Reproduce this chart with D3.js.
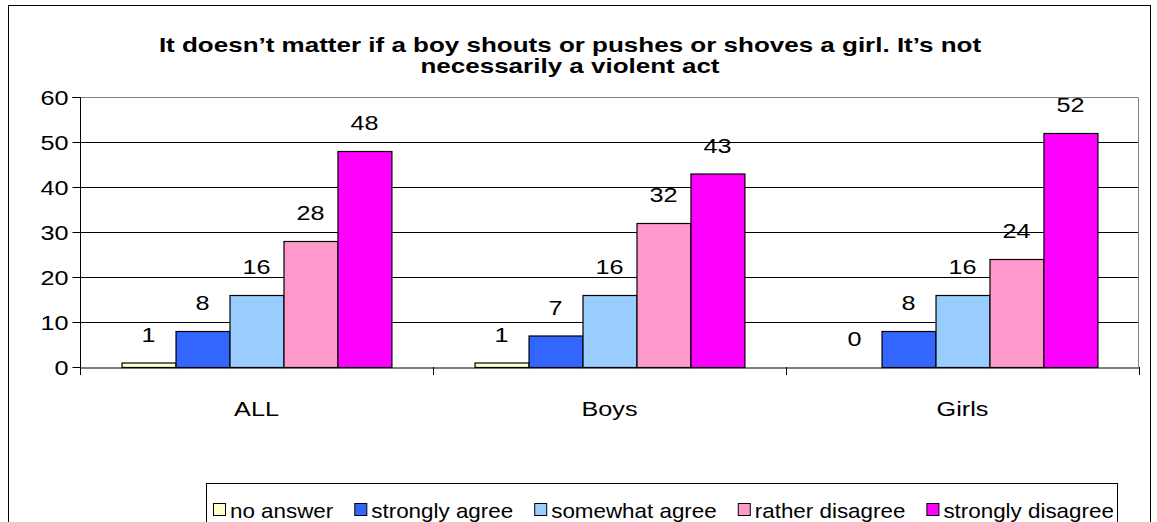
<!DOCTYPE html>
<html>
<head>
<meta charset="utf-8">
<script src="https://cdn.jsdelivr.net/npm/d3@7"></script>
<style>
  html, body { margin: 0; padding: 0; background: #fff; }
  svg { display: block; font-family: Arial, "Liberation Sans", sans-serif; }
</style>
</head>
<body>
<svg id="chart" width="1157" height="522"></svg>
<script>
const categories = ["ALL", "Boys", "Girls"];
const seriesNames = ["no answer", "strongly agree", "somewhat agree", "rather disagree", "strongly disagree"];
const seriesColors = ["#FFFFCC", "#3366FF", "#99CCFF", "#FF99CC", "#FF00FF"];
const noAnswer = [1, 1, 0];
const stronglyAgree = [8, 7, 8];
const somewhatAgree = [16, 16, 16];
const ratherDisagree = [28, 32, 24];
const stronglyDisagree = [48, 43, 52];
const yTicks = [0, 10, 20, 30, 40, 50, 60];
const titleLines = ["It doesn\u2019t matter if a boy shouts or pushes or shoves a girl. It\u2019s not", "necessarily a violent act"];

const seriesValues = [noAnswer, stronglyAgree, somewhatAgree, ratherDisagree, stronglyDisagree];

const SX = 1.2; // horizontal text stretch seen in the reference
const FONT = "Arial, 'Liberation Sans', sans-serif";

const svg = d3.select("#chart");

function stretchText(sel, sx) {
  sel.each(function() {
    const t = d3.select(this);
    const x = +t.attr("x") || 0;
    const y = +t.attr("y") || 0;
    const prev = t.attr("transform") || "";
    t.attr("x", 0).attr("y", 0)
      .attr("transform", `${prev} translate(${x},${y}) scale(${sx},1)`);
  });
}

// outer border
svg.append("rect").attr("x", 8.5).attr("y", 5.5).attr("width", 1142).attr("height", 530)
  .attr("fill", "#fff").attr("stroke", "#000").attr("stroke-width", 1);

const plot = {left: 80, right: 1139, top: 97, bottom: 367};

const x0 = d3.scaleBand().domain(categories).range([plot.left, plot.right]).paddingInner(0).paddingOuter(0);
const x1 = d3.scaleBand().domain(seriesNames).range([0, x0.bandwidth()]).paddingInner(0).paddingOuter(0.77);
const y = d3.scaleLinear().domain([0, 60]).range([plot.bottom, plot.top]);

// title
titleLines.forEach((t, i) => {
  const tt = svg.append("text").attr("x", 570).attr("y", 52 + i * 21)
    .attr("text-anchor", "middle").attr("font-weight", "bold").attr("font-size", 20)
    .attr("fill", "#000").text(t);
  stretchText(tt, 1.3);
});

// gridlines
svg.append("g").selectAll("line").data(yTicks.filter(t => t > 0 && t < 60)).join("line")
  .attr("x1", plot.left).attr("x2", plot.right)
  .attr("y1", d => Math.round(y(d)) + 0.5).attr("y2", d => Math.round(y(d)) + 0.5)
  .attr("stroke", "#000").attr("stroke-width", 1);

// plot border (gray top/right)
svg.append("path")
  .attr("d", `M${plot.left},${plot.top + 0.5}H${plot.right - 0.5}V${plot.bottom}`)
  .attr("fill", "none").attr("stroke", "#808080").attr("stroke-width", 1);

// bars
const groups = svg.append("g").selectAll("g").data(categories).join("g")
  .attr("transform", d => `translate(${x0(d)},0)`);
const rows = (c, ci) => seriesNames.map((s, si) => ({s, si, v: seriesValues[si][ci]}));
groups.selectAll("rect").data(rows)
  .join("rect")
  .attr("x", d => x1(d.s) + 0.5)
  .attr("y", d => y(d.v) + 0.5)
  .attr("width", x1.bandwidth())
  .attr("height", d => Math.max(0, y(0) - y(d.v)))
  .attr("fill", d => seriesColors[d.si])
  .attr("stroke", "#000").attr("stroke-width", 1.2)
  .style("display", d => d.v === 0 ? "none" : null);

// value labels
const vals = groups.selectAll("text.val").data(rows)
  .join("text").attr("class", "val")
  .attr("x", d => x1(d.s) + x1.bandwidth() / 2)
  .attr("y", d => y(d.v) - 21)
  .attr("text-anchor", "middle").attr("font-size", 21).attr("fill", "#000")
  .text(d => d.v);
stretchText(vals, SX);

// y axis
const yAxis = d3.axisLeft(y).tickValues(yTicks).tickSize(8).tickPadding(4);
const gy = svg.append("g").attr("transform", `translate(${plot.left + 0.5},0)`).call(yAxis);
gy.select(".domain").attr("stroke", "#000").attr("d", `M-8,${plot.top}.5H0V${plot.bottom + 8}`);
gy.selectAll(".tick line").attr("stroke", "#000");
gy.selectAll(".tick text").attr("font-size", 21).attr("fill", "#000").attr("font-family", FONT)
  .attr("dy", "0.35em");
stretchText(gy.selectAll(".tick text"), SX);

// x axis
const xAxis = d3.axisBottom(x0).tickSize(0).tickPadding(34);
const gx = svg.append("g").attr("transform", `translate(0,${plot.bottom + 0.5})`).call(xAxis);
gx.select(".domain").attr("stroke", "#000");
gx.selectAll(".tick text").attr("font-size", 21).attr("fill", "#000").attr("font-family", FONT);
stretchText(gx.selectAll(".tick text"), SX);
const bounds = categories.map(c => x0(c)).concat([plot.right]);
svg.append("g").selectAll("line").data(bounds).join("line")
  .attr("x1", d => Math.round(d) + 0.5).attr("x2", d => Math.round(d) + 0.5)
  .attr("y1", plot.bottom).attr("y2", plot.bottom + 8)
  .attr("stroke", "#000");

// legend
const legend = svg.append("g");
const legBox = {x: 206, y: 483, w: 911, h: 60};
legend.append("rect").attr("x", legBox.x + 0.5).attr("y", legBox.y + 0.5).attr("width", legBox.w).attr("height", legBox.h)
  .attr("fill", "#fff").attr("stroke", "#000");
const LSX = 1.12;
const items = [];
seriesNames.forEach((s, i) => {
  const g = legend.append("g");
  g.append("rect").attr("x", 0.5).attr("y", -6.5).attr("width", 12).attr("height", 12)
    .attr("fill", seriesColors[i]).attr("stroke", "#000");
  const t = g.append("text").attr("x", 17).attr("y", 7.5).attr("font-size", 20).attr("fill", "#000").text(s);
  const w = t.node().getComputedTextLength() * LSX;
  stretchText(t, LSX);
  items.push({g, w: 17 + w});
});
const padL = 7, padR = 3;
const gap = (legBox.w - padL - padR - d3.sum(items, d => d.w)) / (items.length - 1);
let startX = legBox.x + padL;
items.forEach(it => { it.g.attr("transform", `translate(${startX},${legBox.y + 27})`); startX += it.w + gap; });
</script>
</body>
</html>
